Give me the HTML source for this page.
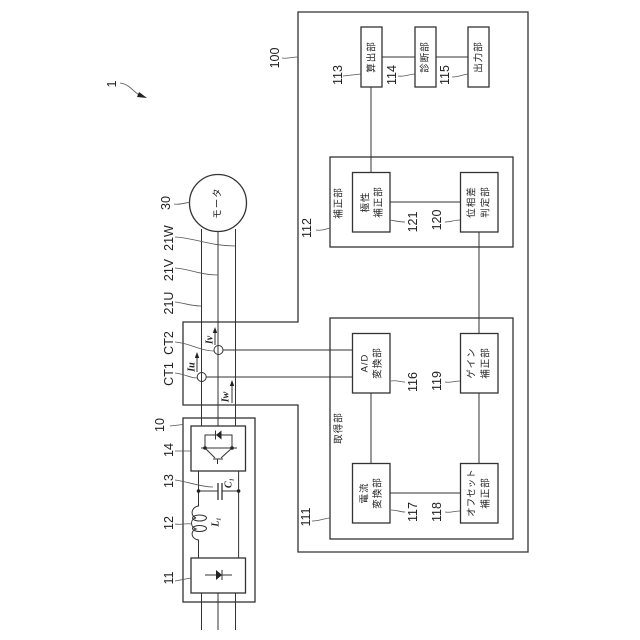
<!DOCTYPE html>
<html>
<head>
<meta charset="utf-8">
<style>
html,body{margin:0;padding:0;background:#fff;width:640px;height:640px;overflow:hidden}
svg{display:block}
.l{fill:none;stroke:#333;stroke-width:1}
.b{fill:none;stroke:#333;stroke-width:1.3}
.h{fill:none;stroke:#555;stroke-width:.8}
text{fill:#222;text-anchor:middle;dominant-baseline:central}
.n{font:12.5px "Liberation Sans",sans-serif}
.j{font:9.5px "Liberation Sans","Noto Sans CJK JP",sans-serif;letter-spacing:1px}
.i{font:italic bold 10px "Liberation Serif",serif}
</style>
</head>
<body>
<svg width="640" height="640" viewBox="0 0 640 640" xmlns="http://www.w3.org/2000/svg">
<rect width="640" height="640" fill="#fff"/>
<!-- enclosures -->
<path class="b" d="M298 322V12H528V552H298V405H183V322Z"/>
<rect class="b" x="183" y="418" width="72" height="184"/>
<rect class="b" x="330" y="318" width="183" height="221"/>
<rect class="b" x="330" y="157" width="183" height="90"/>
<!-- wires -->
<path class="l" d="M201.5 229V426M218 231V426M235.5 229V426M201.5 593V630M218 593V630M235.5 593V630"/>
<circle class="b" cx="218" cy="203" r="28.5" fill="#fff"/>
<path class="l" d="M223 350H352.5M206.500 377H352.500"/>
<circle class="l" cx="218.500" cy="350" r="4.500" fill="#fff"/>
<circle class="l" cx="201.700" cy="377" r="4.500" fill="#fff"/>
<!-- connections -->
<path class="l" d="M371 393V463M390 493H460M479 247V333M479 393V463M479 232V247M390 202H460M371 87V172M382 57H415M436 57H468"/>
<!-- blocks -->
<g class="b" fill="#fff">
<rect class="b" x="352.500" y="333.500" width="37.500" height="59.500"/>
<rect class="b" x="460.500" y="333.500" width="37.500" height="59.500"/>
<rect class="b" x="352.500" y="463.500" width="37.500" height="59.500"/>
<rect class="b" x="460.500" y="463.500" width="37.500" height="59.500"/>
<rect class="b" x="352.500" y="172.500" width="37.500" height="59.500"/>
<rect class="b" x="460.500" y="172.500" width="37.500" height="59.500"/>
<rect class="b" x="361" y="27" width="21" height="60"/>
<rect class="b" x="415" y="27" width="21" height="60"/>
<rect class="b" x="468" y="27" width="21" height="60"/>
<rect class="b" x="191" y="426" width="54.500" height="45"/>
<rect class="b" x="191" y="558" width="54.500" height="35"/>
</g>
<!-- LC section -->
<path class="l" d="M198.500 471V506C191 507 190 516 196 518C190 519 190 527 196 529C190 531 191 539 198.500 540V558M238.600 471V558M198.500 491H218M222 491H238.600"/>
<ellipse class="l" cx="199.500" cy="518" rx="7" ry="3"/>
<ellipse class="l" cx="199.500" cy="528.500" rx="7" ry="3"/>
<path class="b" d="M218 483V500M222 483V500"/>
<circle cx="198.500" cy="491" r="1.800" fill="#222"/>
<circle cx="238.600" cy="491" r="1.800" fill="#222"/>
<!-- rectifier -->
<path class="l" d="M205 575H232"/>
<path d="M216 570V580L222 575Z" fill="#222"/>
<path class="l" d="M222 570V580"/>
<!-- inverter -->
<path class="l" d="M201 448H237M205 448V435H232V448M205 448L215 458M232 448L221 458M213 459H223M217.500 459V464"/>
<path d="M221.500 430.500V439.500L216 435Z" fill="#222"/>
<path class="l" d="M215.500 430.500V439.500"/>
<circle cx="205" cy="448" r="1.800" fill="#222"/>
<circle cx="232" cy="448" r="1.800" fill="#222"/>
<!-- current arrows -->
<path class="l" d="M197 372V356M215 345V331M232 403V384"/>
<path d="M197 352L194.800 358H199.200Z M215 327L212.800 333H217.200Z M232 380L229.800 386H234.200Z" fill="#222"/>
<!-- leaders -->
<path class="h" d="M120 83C130 84 134 93 141 96M170 426L183 424.500M175 451H191M175 480C190 482 200 487 213 487M175 524C182 525 186 523 192 524M175 581L191 578M174 204C180 205 185 203 190 202M175 237C195 238 210 246 235 246M175 268C190 269 200 275 218 275M175 302C185 303 190 306 201 306M175 342C190 343 200 351 214 351M175 373C185 374 190 378 197 378M282 58C288 59 292 57 298 57M343 76L361 74M398 76C405 77 410 74 415 74M452 77C458 77 462 75 468 74M316 230C322 231 326 229 330 228M312 521C320 521 325 518 330 518M390 220C396 221 400 222 405 222M445 222C450 222 455 220 460 220M391 381C397 380 400 382 405 382M445 382C450 383 455 381 460 381M391 510C397 510 400 512 405 512M445 512C450 513 455 511 460 511"/>
<path d="M147 98L139 92L137 97Z" fill="#222"/>
<!-- numbers -->
<g class="n">
<text transform="translate(112,84) rotate(-90)">1</text>
<text transform="translate(160,425) rotate(-90)">10</text>
<text transform="translate(169,450) rotate(-90)">14</text>
<text transform="translate(169,481) rotate(-90)">13</text>
<text transform="translate(169,523) rotate(-90)">12</text>
<text transform="translate(169,578) rotate(-90)">11</text>
<text transform="translate(166,203) rotate(-90)">30</text>
<text transform="translate(169,238) rotate(-90)">21W</text>
<text transform="translate(169,270) rotate(-90)">21V</text>
<text transform="translate(169,303) rotate(-90)">21U</text>
<text transform="translate(169,343) rotate(-90)">CT2</text>
<text transform="translate(169,374) rotate(-90)">CT1</text>
<text transform="translate(275,58) rotate(-90)">100</text>
<text transform="translate(338,75) rotate(-90)">113</text>
<text transform="translate(392,75) rotate(-90)">114</text>
<text transform="translate(445,75) rotate(-90)">115</text>
<text transform="translate(307,228) rotate(-90)">112</text>
<text transform="translate(413,222) rotate(-90)">121</text>
<text transform="translate(437,220) rotate(-90)">120</text>
<text transform="translate(306,517) rotate(-90)">111</text>
<text transform="translate(413,382) rotate(-90)">116</text>
<text transform="translate(437,381) rotate(-90)">119</text>
<text transform="translate(413,512) rotate(-90)">117</text>
<text transform="translate(437,512) rotate(-90)">118</text>
</g>
<!-- symbols -->
<g class="i">
<text transform="translate(192,367) rotate(-90)">Iu</text>
<text transform="translate(210,340) rotate(-90)">Iv</text>
<text transform="translate(226,397) rotate(-90)">Iw</text>
<text transform="translate(229,483) rotate(-90)">C₁</text>
<text transform="translate(216,522) rotate(-90)">L₁</text>
</g>
<!-- block labels -->
<g class="j">
<text transform="translate(218,203) rotate(-90)">モータ</text>
<text transform="translate(372,57) rotate(-90)">算出部</text>
<text transform="translate(425.500,57) rotate(-90)">診断部</text>
<text transform="translate(479,57) rotate(-90)">出力部</text>
<text transform="translate(339,203) rotate(-90)">補正部</text>
<text transform="translate(366,202) rotate(-90)">極性</text>
<text transform="translate(379,202) rotate(-90)">補正部</text>
<text transform="translate(472,202) rotate(-90)">位相差</text>
<text transform="translate(486,202) rotate(-90)">判定部</text>
<text transform="translate(339,428) rotate(-90)">取得部</text>
<text transform="translate(365,363) rotate(-90)">A/D</text>
<text transform="translate(378,363) rotate(-90)">変換部</text>
<text transform="translate(472,363) rotate(-90)">ゲイン</text>
<text transform="translate(486,363) rotate(-90)">補正部</text>
<text transform="translate(365,493) rotate(-90)">電流</text>
<text transform="translate(378,493) rotate(-90)">変換部</text>
<text transform="translate(472,493) rotate(-90)" style="letter-spacing:0">オフセット</text>
<text transform="translate(486,493) rotate(-90)">補正部</text>
</g>
</svg>
</body>
</html>
